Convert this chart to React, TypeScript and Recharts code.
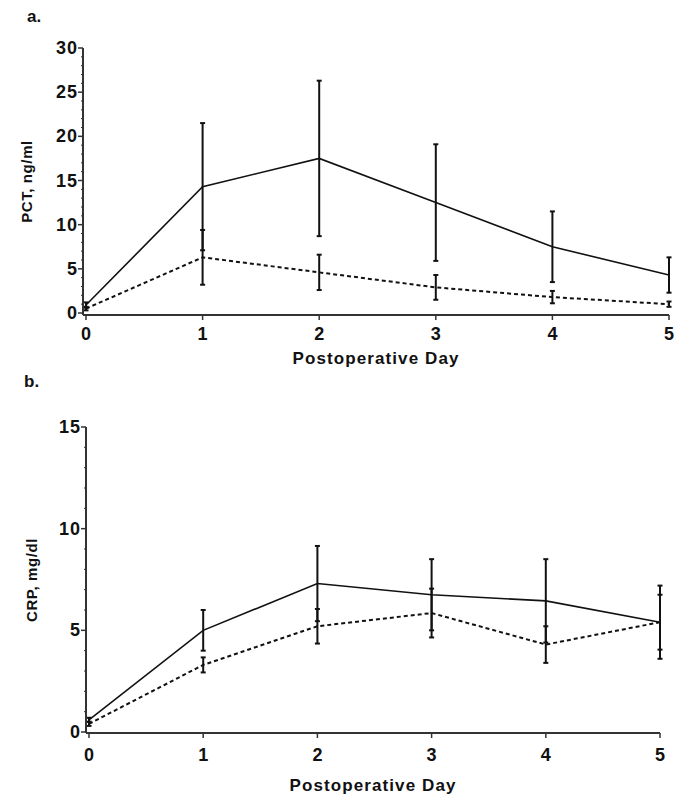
import { LineChart, Line, XAxis, YAxis, ErrorBar } from "recharts";

const days = [0, 1, 2, 3, 4, 5];

// panel a: PCT, ng/ml
const pctSolid = [0.9, 14.3, 17.5, 12.5, 7.5, 4.3];
const pctSolidErr = [0.3, 7.2, 8.8, 6.6, 4.0, 2.0];
const pctDashed = [0.5, 6.3, 4.6, 2.9, 1.8, 1.0];
const pctDashedErr = [0.2, 3.1, 2.0, 1.4, 0.7, 0.3];
const pctTicks = Array.from({ length: 31 }, (_, i) => i);

// panel b: CRP, mg/dl
const crpSolid = [0.6, 5.0, 7.3, 6.75, 6.45, 5.4];
const crpSolidErr = [0.1, 1.0, 1.85, 1.75, 2.05, 1.8];
const crpDashed = [0.4, 3.3, 5.2, 5.85, 4.3, 5.4];
const crpDashedErr = [0.1, 0.37, 0.85, 1.2, 0.9, 1.35];
const crpTicks = Array.from({ length: 16 }, (_, i) => i);

const font = "'Liberation Sans', Arial, Helvetica, sans-serif";
const ink = "#111";
const axisColor = "#333";

const makeRows = (solid: number[], solidErr: number[], dashed: number[], dashedErr: number[]) =>
  days.map((d, i) => ({
    day: d,
    solid: solid[i],
    solidErr: solidErr[i],
    dashed: dashed[i],
    dashedErr: dashedErr[i],
  }));

const pctData = makeRows(pctSolid, pctSolidErr, pctDashed, pctDashedErr);
const crpData = makeRows(crpSolid, crpSolidErr, crpDashed, crpDashedErr);

const yTick = (props: any) => {
  const { x, y, payload } = props;
  const v = payload.value;
  const major = v % 5 === 0;
  return (
    <g>
      <line x1={x - (major ? 5 : 2)} x2={x} y1={y} y2={y} stroke={axisColor} strokeWidth={major ? 1.5 : 1} />
      {major && (
        <text x={x - 5} y={y} dy={6} textAnchor="end" fontFamily={font} fontWeight={700} fontSize={18} letterSpacing={1} fill={ink}>
          {v}
        </text>
      )}
    </g>
  );
};

const xTick = (gap: number) => (props: any) => {
  const { x, y, payload } = props;
  return (
    <g>
      <line x1={x} x2={x} y1={y} y2={y + 5} stroke={axisColor} strokeWidth={1.5} />
      <text x={x} y={y + gap} textAnchor="middle" fontFamily={font} fontWeight={700} fontSize={18} fill={ink}>
        {payload.value}
      </text>
    </g>
  );
};

type PanelProps = {
  data: any[];
  ticks: number[];
  yMax: number;
  yLabel: string;
  height: number;
  margin: { top: number; right: number; bottom: number; left: number };
  padBottom: number;
  tickGap: number;
  labelGap: number;
  yLabelX: number;
};

const Panel = ({ data, ticks, yMax, yLabel, height, margin, padBottom, tickGap, labelGap, yLabelX }: PanelProps) => (
  <LineChart width={689} height={height} data={data} margin={margin}>
    <XAxis
      dataKey="day"
      type="number"
      domain={[0, 5]}
      ticks={days}
      interval={0}
      height={60}
      padding={{ left: 3, right: 0 }}
      tickSize={0}
      tickMargin={0}
      tickLine={false}
      axisLine={{ stroke: axisColor, strokeWidth: 2 }}
      tick={xTick(tickGap)}
      label={{
        content: (p: any) => (
          <text
            x={p.viewBox.x + p.viewBox.width / 2}
            y={p.viewBox.y + labelGap}
            textAnchor="middle"
            fontFamily={font}
            fontWeight={700}
            fontSize={17}
            letterSpacing={1.1}
            fill={ink}
          >
            Postoperative Day
          </text>
        ),
      }}
    />
    <YAxis
      type="number"
      domain={[0, yMax]}
      ticks={ticks}
      interval={0}
      width={60}
      padding={{ top: 0, bottom: padBottom }}
      tickSize={0}
      tickMargin={0}
      tickLine={false}
      axisLine={{ stroke: axisColor, strokeWidth: 2 }}
      tick={yTick}
      label={{
        content: (p: any) => {
          const cy = p.viewBox.y + p.viewBox.height / 2;
          return (
            <text
              x={yLabelX}
              y={cy}
              transform={`rotate(-90 ${yLabelX} ${cy})`}
              textAnchor="middle"
              dominantBaseline="central"
              fontFamily={font}
              fontWeight={700}
              fontSize={15}
              letterSpacing={0.6}
              fill={ink}
            >
              {yLabel}
            </text>
          );
        },
      }}
    />
    <Line dataKey="solid" stroke={ink} strokeWidth={1.6} dot={false} isAnimationActive={false}>
      <ErrorBar dataKey="solidErr" direction="y" width={2.5} stroke={ink} strokeWidth={2} />
    </Line>
    <Line dataKey="dashed" stroke={ink} strokeWidth={2} strokeDasharray="4 3" dot={false} isAnimationActive={false}>
      <ErrorBar dataKey="dashedErr" direction="y" width={2.5} stroke={ink} strokeWidth={2} />
    </Line>
  </LineChart>
);

const panelLetter = { position: "absolute" as const, fontFamily: font, fontWeight: 700, fontSize: 17, color: ink };

export default function App() {
  return (
    <div style={{ position: "absolute", left: 0, top: 0, width: 689, height: 809, background: "#fff", overflow: "hidden" }}>
      <div style={{ ...panelLetter, left: 27, top: 7 }}>a.</div>
      <div style={{ position: "absolute", left: 0, top: 0 }}>
        <Panel
          data={pctData}
          ticks={pctTicks}
          yMax={30}
          yLabel="PCT, ng/ml"
          height={390}
          margin={{ top: 48, right: 20, bottom: 15, left: 23 }}
          padBottom={2}
          tickGap={25}
          labelGap={49}
          yLabelX={26}
        />
      </div>
      <div style={{ ...panelLetter, left: 24, top: 372 }}>b.</div>
      <div style={{ position: "absolute", left: 0, top: 390 }}>
        <Panel
          data={crpData}
          ticks={crpTicks}
          yMax={15}
          yLabel="CRP, mg/dl"
          height={419}
          margin={{ top: 37, right: 29, bottom: 16, left: 26 }}
          padBottom={1}
          tickGap={28}
          labelGap={58}
          yLabelX={31}
        />
      </div>
    </div>
  );
}
